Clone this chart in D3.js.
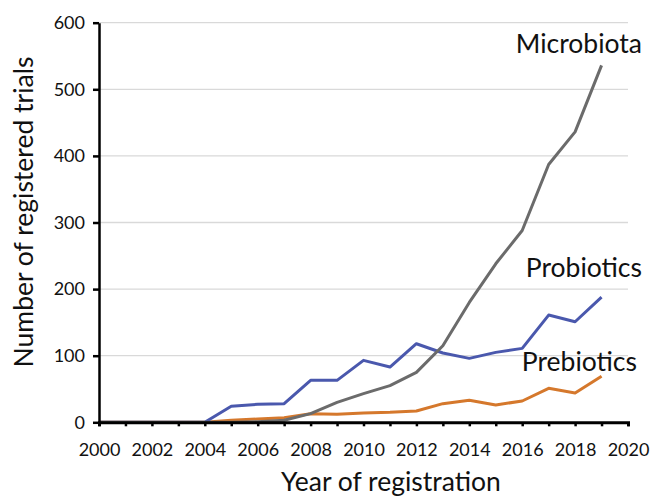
<!DOCTYPE html>
<html><head><meta charset="utf-8">
<script src="https://cdn.jsdelivr.net/npm/d3@7"></script>
<style>body{margin:0;background:#fff;} svg{display:block;} text{font-family:Lato, "Open Sans", sans-serif;fill:#111;}</style>
</head><body>
<svg id="c" width="652" height="498"></svg>
<script>
const years = d3.range(2000, 2020);
const microbiota = [0,0,0,0,0,0,1,3,13,30,43,55,75,115,180,238,288,387,436,536];
const probiotics = [0,0,0,0,0,24,27,28,63,63,93,83,118,104,96,105,111,161,151,188];
const prebiotics = [0,0,0,0,0,3,5,7,13,12,14,15,17,28,33,26,32,51,44,69];
const yTicks = [0,100,200,300,400,500,600];
const xTickLabels = [2000,2002,2004,2006,2008,2010,2012,2014,2016,2018,2020];
const seriesNames = ["Microbiota","Probiotics","Prebiotics"];

const svg = d3.select("#c");
const x = d3.scaleLinear().domain([2000,2020]).range([99,628]);
const y = d3.scaleLinear().domain([0,600]).range([422.3,22.7]);

// gridlines
svg.append("g").selectAll("line").data(yTicks.filter(d=>d>0)).join("line")
  .attr("x1",x(2000)).attr("x2",x(2020)).attr("y1",d=>y(d)).attr("y2",d=>y(d))
  .attr("stroke","#d9d9d9").attr("stroke-width",1.3);

const line = d3.line().x((d,i)=>x(years[i])).y(d=>y(d));
const series = [
  {name:"Prebiotics", values:prebiotics, color:"#d5782c"},
  {name:"Probiotics", values:probiotics, color:"#4a58ad"},
  {name:"Microbiota", values:microbiota, color:"#6b6b6b"}
];
svg.append("g").selectAll("path").data(series).join("path")
  .attr("d",d=>line(d.values)).attr("fill","none")
  .attr("stroke",d=>d.color).attr("stroke-width",3).attr("stroke-linejoin","round");

// x axis
const xa = svg.append("g").attr("transform",`translate(0,${y(0)})`)
  .call(d3.axisBottom(x).tickValues(d3.range(2000,2021)).tickSize(4).tickFormat(d=>xTickLabels.includes(d)?d:""));
xa.select(".domain").attr("stroke","#000").attr("stroke-width",3);
xa.selectAll(".tick line").attr("stroke","#000").attr("stroke-width",2.5);
xa.selectAll("text").attr("font-size",18).attr("dy","1.5em").style("font-family","Lato");

// y axis
const ya = svg.append("g").attr("transform",`translate(${x(2000)},0)`)
  .call(d3.axisLeft(y).tickValues(yTicks).tickSize(6).tickSizeOuter(0).tickPadding(8));
ya.select(".domain").attr("stroke","#000").attr("stroke-width",2.5);
ya.selectAll(".tick line").attr("stroke","#000").attr("stroke-width",2.5);
ya.selectAll("text").attr("font-size",18).style("font-family","Lato");

// series labels
const labelPos = {Microbiota:[642,53], Probiotics:[642,277], Prebiotics:[637,371]};
svg.append("g").selectAll("text").data(seriesNames).join("text")
  .attr("x",d=>labelPos[d][0]).attr("y",d=>labelPos[d][1]).attr("text-anchor","end")
  .attr("font-size",26.5).text(d=>d);

// axis titles
svg.append("text").attr("x",391).attr("y",491).attr("text-anchor","middle")
  .attr("font-size",26.5).text("Year of registration");
svg.append("text").attr("transform","translate(33,212) rotate(-90)").attr("text-anchor","middle")
  .attr("font-size",26.5).text("Number of registered trials");
</script>
</body></html>
